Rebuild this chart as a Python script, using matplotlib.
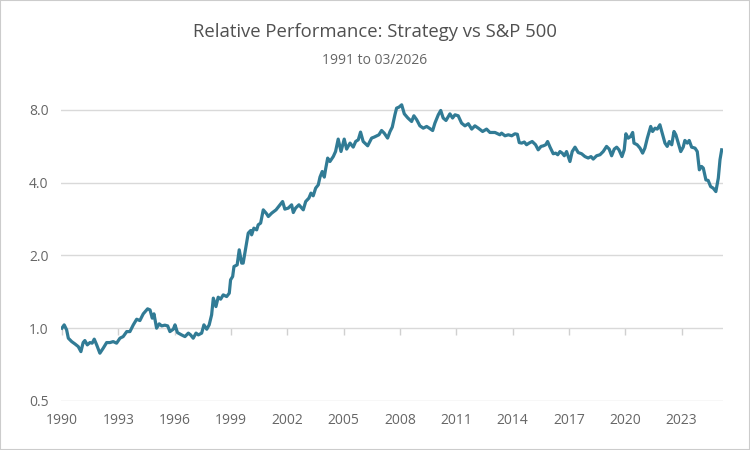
import numpy as np
import matplotlib
matplotlib.use("Agg")
import matplotlib.pyplot as plt
from matplotlib.ticker import FixedLocator, FuncFormatter, NullLocator
from matplotlib.patches import Rectangle

plt.rcParams['font.family'] = ['Open Sans', 'DejaVu Sans']

# relative value of strategy vs S&P 500
years = [
    1990.0, 1990.12, 1990.25, 1990.34, 1990.52, 1990.69, 1990.87, 1991.01, 1991.13, 1991.22,
    1991.35, 1991.49, 1991.61, 1991.72, 1991.85, 1992.02, 1992.2, 1992.38, 1992.56, 1992.73,
    1992.91, 1993.09, 1993.26, 1993.45, 1993.62, 1993.8, 1993.98, 1994.15, 1994.33, 1994.56,
    1994.69, 1994.81, 1994.9, 1995.04, 1995.18, 1995.31, 1995.48, 1995.63, 1995.75, 1995.93,
    1996.02, 1996.15, 1996.37, 1996.55, 1996.73, 1996.85, 1996.99, 1997.14, 1997.26, 1997.44,
    1997.56, 1997.71, 1997.84, 1997.97, 1998.06, 1998.2, 1998.32, 1998.45, 1998.59, 1998.77,
    1998.91, 1998.98, 1999.09, 1999.16, 1999.33, 1999.44, 1999.57, 1999.65, 1999.8, 1999.92,
    2000.05, 2000.1, 2000.22, 2000.37, 2000.45, 2000.58, 2000.72, 2000.9, 2000.99, 2001.17,
    2001.4, 2001.61, 2001.75, 2001.87, 2002.05, 2002.23, 2002.32, 2002.44, 2002.62, 2002.85,
    2002.98, 2003.15, 2003.26, 2003.38, 2003.51, 2003.65, 2003.74, 2003.86, 2003.97, 2004.04,
    2004.15, 2004.27, 2004.45, 2004.57, 2004.71, 2004.86, 2005.03, 2005.16, 2005.34, 2005.51,
    2005.64, 2005.78, 2005.9, 2006.04, 2006.28, 2006.49, 2006.63, 2006.76, 2006.88, 2007.02,
    2007.16, 2007.34, 2007.47, 2007.59, 2007.73, 2007.82, 2007.95, 2008.09, 2008.23, 2008.42,
    2008.62, 2008.74, 2008.89, 2009.06, 2009.24, 2009.42, 2009.56, 2009.74, 2009.86, 2010.04,
    2010.17, 2010.3, 2010.45, 2010.66, 2010.8, 2010.93, 2011.1, 2011.28, 2011.46, 2011.64,
    2011.82, 2011.99, 2012.17, 2012.4, 2012.61, 2012.79, 2013.06, 2013.32, 2013.41, 2013.59,
    2013.77, 2013.95, 2014.12, 2014.25, 2014.35, 2014.48, 2014.62, 2014.74, 2014.87, 2015.04,
    2015.22, 2015.36, 2015.51, 2015.63, 2015.76, 2015.86, 2015.99, 2016.16, 2016.29, 2016.4,
    2016.52, 2016.64, 2016.75, 2016.87, 2017.05, 2017.17, 2017.32, 2017.49, 2017.67, 2017.85,
    2018.02, 2018.17, 2018.29, 2018.47, 2018.65, 2018.82, 2019.0, 2019.14, 2019.27, 2019.41,
    2019.54, 2019.66, 2019.82, 2019.94, 2020.03, 2020.15, 2020.28, 2020.39, 2020.46, 2020.63,
    2020.78, 2020.92, 2021.04, 2021.17, 2021.35, 2021.45, 2021.58, 2021.7, 2021.84, 2021.99,
    2022.11, 2022.23, 2022.34, 2022.47, 2022.59, 2022.69, 2022.82, 2022.95, 2023.08, 2023.17,
    2023.3, 2023.4, 2023.53, 2023.71, 2023.83, 2023.94, 2024.06, 2024.15, 2024.29, 2024.41,
    2024.54, 2024.68, 2024.82, 2024.95, 2025.04, 2025.13,
]
values = [
    1.00, 1.032, 0.984, 0.909, 0.880, 0.861, 0.839, 0.800, 0.872, 0.889,
    0.853, 0.872, 0.867, 0.901, 0.853, 0.788, 0.827, 0.872, 0.872, 0.880,
    0.867, 0.909, 0.923, 0.968, 0.968, 1.032, 1.089, 1.075, 1.146, 1.202,
    1.190, 1.100, 1.146, 1.00, 1.042, 1.022, 1.029, 1.022, 0.968, 0.990,
    1.032, 0.959, 0.938, 0.923, 0.954, 0.938, 0.909, 0.954, 0.938, 0.954,
    1.032, 0.990, 1.032, 1.135, 1.331, 1.228, 1.343, 1.318, 1.373, 1.351,
    1.395, 1.584, 1.635, 1.798, 1.827, 2.108, 1.857, 1.857, 2.175, 2.471,
    2.533, 2.431, 2.591, 2.549, 2.674, 2.718, 3.084, 2.969, 2.894, 2.989,
    3.084, 3.235, 3.338, 3.105, 3.135, 3.235, 3.006, 3.135, 3.235, 3.084,
    3.338, 3.448, 3.616, 3.524, 3.792, 3.913, 4.211, 4.442, 4.211, 4.544,
    5.046, 4.885, 5.124, 5.374, 6.047, 5.374, 6.047, 5.498, 5.821, 5.603,
    5.91, 6.008, 6.463, 5.91, 5.673, 6.105, 6.164, 6.238, 6.30, 6.563,
    6.40, 6.105, 6.50, 6.78, 7.62, 8.12, 8.20, 8.38, 7.69, 7.39,
    7.15, 7.55, 7.27, 6.86, 6.71, 6.82, 6.71, 6.56, 7.04, 7.62,
    7.94, 7.39, 7.22, 7.69, 7.39, 7.62, 7.55, 7.04, 6.86, 7.00,
    6.65, 6.86, 6.71, 6.50, 6.65, 6.44, 6.44, 6.30, 6.40, 6.24,
    6.30, 6.24, 6.36, 6.33, 5.85, 5.82, 5.88, 5.73, 5.82, 5.91,
    5.73, 5.46, 5.64, 5.67, 5.73, 5.91, 5.60, 5.26, 5.29, 5.21,
    5.37, 5.29, 5.16, 5.37, 4.885, 5.37, 5.60, 5.32, 5.26, 5.12,
    5.05, 5.12, 5.00, 5.16, 5.21, 5.37, 5.64, 5.50, 5.16, 5.50,
    5.60, 5.46, 5.12, 5.46, 6.36, 6.10, 6.20, 6.44, 5.82, 5.73,
    5.55, 5.29, 5.55, 6.10, 6.82, 6.50, 6.71, 6.65, 6.93, 6.30,
    5.82, 5.64, 5.91, 5.73, 6.50, 6.30, 5.82, 5.37, 5.60, 5.97,
    5.82, 5.97, 5.60, 5.55, 5.37, 4.515, 4.66, 4.59, 4.10, 4.08,
    3.85, 3.79, 3.67, 4.17, 4.97, 5.46,
]

y_ticks = [0.5, 1.0, 2.0, 4.0, 8.0]
x_ticks = list(range(1990, 2024, 3))

title = "Relative Performance: Strategy vs S&P 500"
subtitle = "1991 to 03/2026"

fig = plt.figure(figsize=(7.5, 4.5), dpi=100)
ax = fig.add_axes([61 / 750, 49 / 450, 662 / 750, 306 / 450])

ax.plot(years, values, color='#317b95', lw=2.3, solid_joinstyle='round')

ax.set_yscale('log')
ymin, ymax = 0.5, 9.2
ax.set_ylim(ymin, ymax)
ax.set_xlim(1989.95, 2025.2)

ax.yaxis.set_major_locator(FixedLocator(y_ticks))
ax.yaxis.set_minor_locator(NullLocator())
ax.yaxis.set_major_formatter(FuncFormatter(lambda v, p: f"{v:.1f}"))
ax.set_xticks(x_ticks)
ax.xaxis.set_minor_locator(NullLocator())

ax.grid(axis='y', color='#d9d9d9', lw=1)
ax.set_axisbelow(True)
for s in ax.spines.values():
    s.set_visible(False)
ax.tick_params(axis='both', length=0, labelsize=10, labelcolor='#666666')
ax.tick_params(axis='y', pad=9)
ax.tick_params(axis='x', pad=9)

# x tick marks sit on the 1.0 line
pos = np.log(1.0 / ymin) / np.log(ymax / ymin)
sec = ax.secondary_xaxis(pos)
sec.set_xticks(x_ticks)
sec.tick_params(axis='x', direction='out', length=5, width=1, color='#d0d0d0', labelbottom=False, labeltop=False)
sec.spines['bottom'].set_visible(False)
sec.spines['top'].set_visible(False)

fig.text(0.5, 1 - 32 / 450, title, ha='center', va='center', fontsize=13.3, color='#505050')
fig.text(0.5, 1 - 60 / 450, subtitle, ha='center', va='center', fontsize=10, color='#666666')

fig.patches.append(Rectangle((0, 0), 1, 1, transform=fig.transFigure, fill=False,
                             edgecolor='#cccccc', lw=1.5))

fig.savefig('out.png', dpi=100)
